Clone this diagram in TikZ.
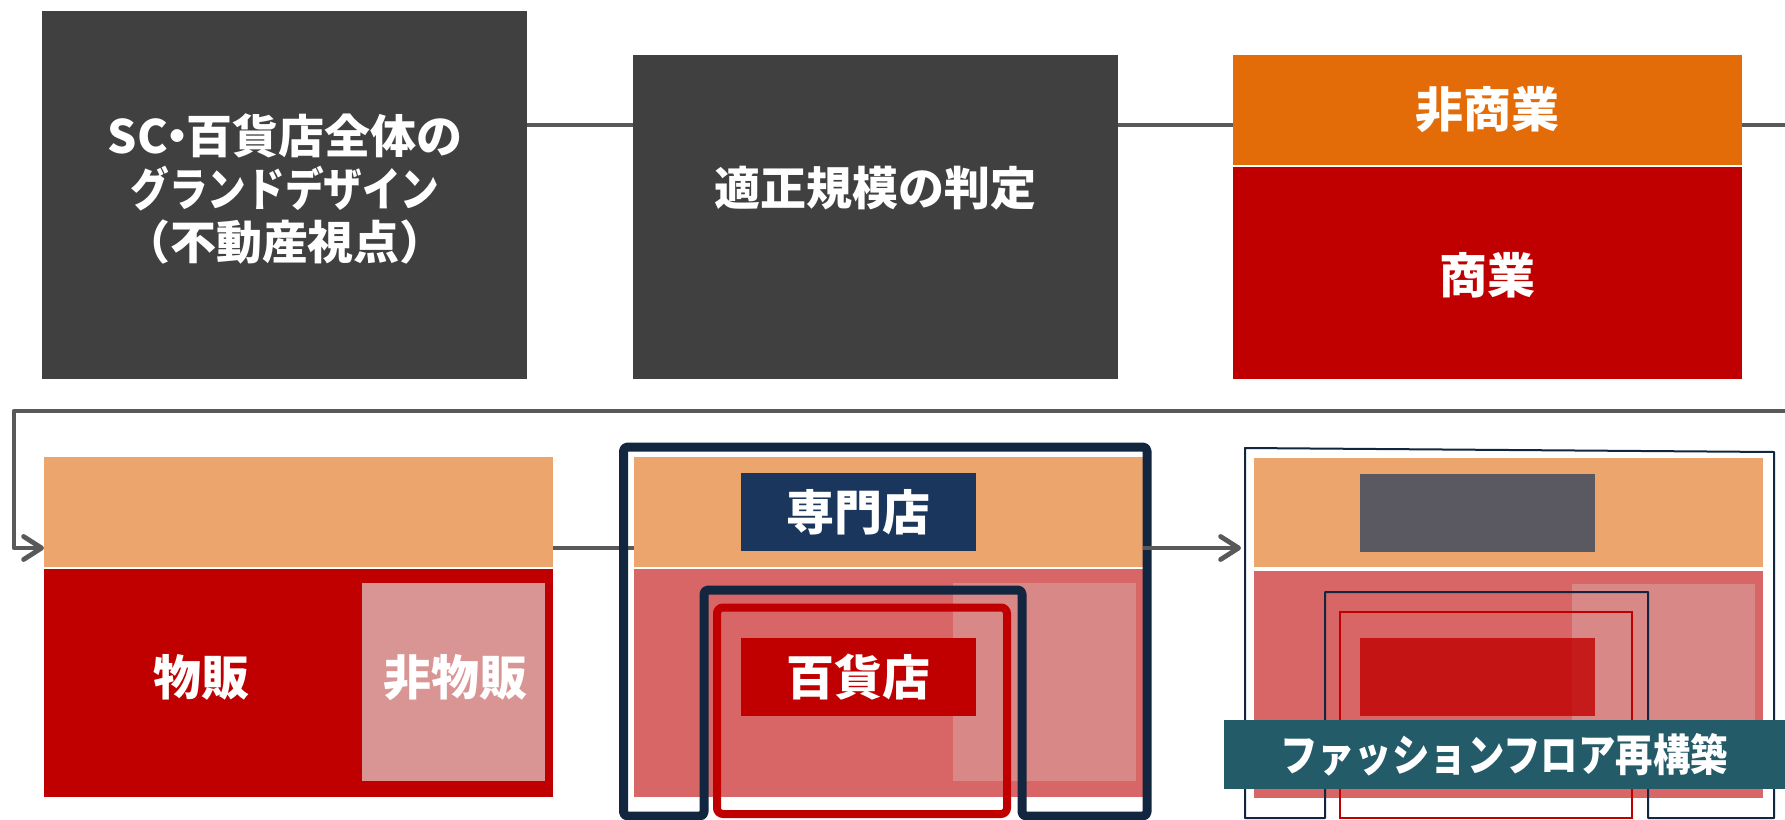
\documentclass[tikz,border=0pt]{standalone}
\usepackage{fontspec}
\newfontfamily\jp{Noto Sans CJK JP}
\usetikzlibrary{arrows.meta,calc}
\definecolor{dk}{HTML}{404040}
\definecolor{org}{HTML}{E36C09}
\definecolor{rd}{HTML}{C00000}
\definecolor{lorg}{HTML}{EDA56E}
\definecolor{pk}{HTML}{D96666}
\definecolor{lpk}{HTML}{D99594}
\definecolor{lpkb}{HTML}{D98888}
\definecolor{nv}{HTML}{1B365D}
\definecolor{nvf}{HTML}{13263F}
\definecolor{gy}{HTML}{595959}
\definecolor{gbox}{HTML}{5A5962}
\definecolor{tl}{HTML}{235B69}
\begin{document}
\begin{tikzpicture}[x=0.5pt,y=-0.5pt,
  blk/.style={inner sep=0pt,outer sep=0pt,anchor=north west,draw=none},
  wh/.style 2 args={minimum width=#1*0.5pt,minimum height=#2*0.5pt},
  lbl/.style={text=white,inner sep=0pt,align=center,font=\jp\bfseries\fontsize{#1}{#1}\selectfont},
  lbl/.default=23pt,
  conn/.style={draw=gy,line width=2.4pt,line join=round},
  arr/.style={conn,-{Straight Barb[length=9pt,width=11.5pt,line cap=round,line join=round]}},
  bigframe/.style={draw=nvf,line width=4.5pt,line join=round,rounded corners=2pt},
  thinframe/.style={draw=nvf,line width=1pt,line join=round},
  redframe/.style={draw=rd,line width=4pt,rounded corners=3pt},
  thinred/.style={draw=rd,line width=1pt}]
\useasboundingbox (0,0) rectangle (1785,820);
% helper rows
\coordinate (toprow) at (0,125);
\coordinate (botrow) at (0,548);
\coordinate (edgeA) at (1785,125);
\coordinate (edgeB) at (1785,411);
\coordinate (wrapL) at (14,411);

% ---------- top row ----------
\node[blk,wh={485}{368},fill=dk] (b1) at (42,11) {};
\node[lbl,font=\jp\bfseries\fontsize{23pt}{26.5pt}\selectfont] (t1) at (285,189)
  {SC\kern-0.3em ・\kern-0.3em 百貨店全体の\\\scalebox{0.84}[1]{グランドデザイン}\\（不動産視点）};
\node[blk,wh={485}{324},fill=dk] (b2) at (633,55) {};
\node[lbl] (t2) at (875,188) {適正規模の判定};
\node[blk,wh={509}{110},fill=org] (b3a) at (1233,55) {};
\node[lbl=24pt] (t3a) at (b3a.center) {非商業};
\node[blk,wh={509}{212},fill=rd] (b3b) at (1233,167) {};
\node[lbl=24pt] (t3b) at (1487,275) {商業};

\draw[conn] (b1.east |- toprow) -- (b2.west |- toprow);
\draw[conn] (b2.east |- toprow) -- (b3a.west |- toprow);
\draw[conn] (b3a.east |- toprow) -- (edgeA);

% ---------- bottom row: building 1 ----------
\node[blk,wh={509}{110},fill=lorg] (o1) at (44,457) {};
\node[blk,wh={509}{228},fill=rd] (r1) at (44,569) {};
\node[blk,wh={183}{198},fill=lpk] (p1) at (362,583) {};
\node[lbl=24pt] (t4) at (201,677) {物販};
\node[lbl=24pt] (t5) at (455,678) {非物販};

\draw[arr] (edgeB) -- (wrapL) |- (o1.west |- botrow);

% ---------- building 2 ----------
\node[blk,wh={509}{110},fill=lorg] (o2) at (634,457) {};
\node[blk,wh={509}{228},fill=pk] (r2) at (634,569) {};
\node[blk,wh={183}{198},fill=lpkb] (p2) at (953,583) {};
\node[blk,wh={235}{78},fill=nv] (s2) at (741,473) {};
\node[lbl=24pt] (t6) at (s2.center) {専門店};
\node[blk,wh={235}{78},fill=rd] (d2) at (741,638) {};
\node[lbl=24pt] (t7) at (d2.center) {百貨店};

\draw[conn] (o1.east |- botrow) -- (o2.west |- botrow);
\draw[redframe] (717,607.5) rectangle (1007,814);
\draw[bigframe] (623.5,816) -- (623.5,447) -- (1147,447) -- (1147,816) -- (1022,816) -- (1022,590) -- (704,590) -- (704,816) -- cycle;

% ---------- building 3 ----------
\node[blk,wh={509}{109},fill=lorg] (o3) at (1254,458) {};
\node[blk,wh={509}{227},fill=pk] (r3) at (1254,571) {};
\node[blk,wh={183}{196},fill=lpkb] (p3) at (1572,584) {};
\node[blk,wh={235}{78},fill=gbox] (g3) at (1360,474) {};
\node[blk,wh={235}{78},fill=rd,fill opacity=0.8] (d3) at (1360,638) {};
\draw[thinred] (1340,612) rectangle (1632,818);
\draw[thinframe] (1245,818) -- (1245,448) -- (1774,452) -- (1774,818) -- (1648,818) -- (1648,592) -- (1325,592) -- (1325,818) -- cycle;

\draw[arr,shorten >=6.5pt] (o2.east |- botrow) -- (o3.west |- botrow);

\node[blk,wh={561}{69},fill=tl] (fl) at (1224,720) {};
\node[lbl=22pt] (t8) at (1504,755) {\scalebox{0.85}[1]{ファッションフロア再構築}};
\end{tikzpicture}
\end{document}
